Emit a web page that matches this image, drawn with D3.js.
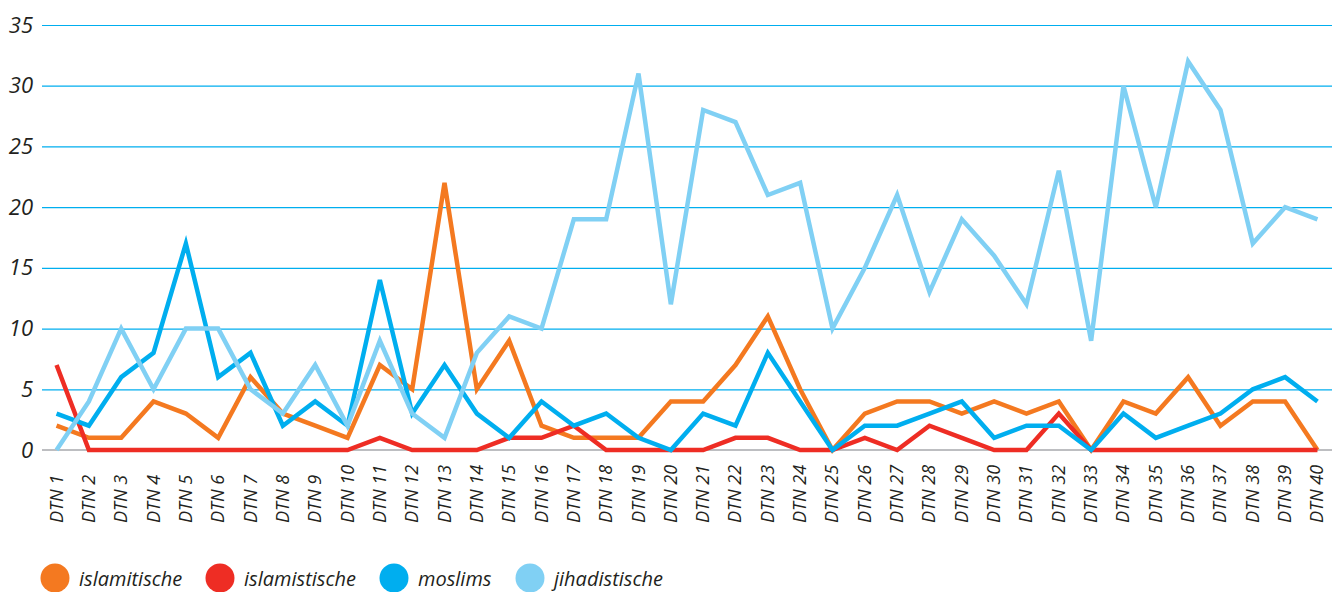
<!DOCTYPE html>
<html>
<head>
<meta charset="utf-8">
<script src="https://cdn.jsdelivr.net/npm/d3@7"></script>
<style>
  body { margin: 0; background: #fff; }
  svg text { font-family: "Open Sans", sans-serif; font-style: italic; fill: #231f20; }
</style>
</head>
<body>
<div id="chart"></div>
<script>
const width = 1338;
const height = 592;

const categories = d3.range(1, 41).map((i) => 'DTN ' + i);

const islamitische = [2, 1, 1, 4, 3, 1, 6, 3, 2, 1, 7, 5, 22, 5, 9, 2, 1, 1, 1, 4,
  4, 7, 11, 5, 0, 3, 4, 4, 3, 4, 3, 4, 0, 4, 3, 6, 2, 4, 4, 0];
const islamistische = [7, 0, 0, 0, 0, 0, 0, 0, 0, 0, 1, 0, 0, 0, 1, 1, 2, 0, 0, 0,
  0, 1, 1, 0, 0, 1, 0, 2, 1, 0, 0, 3, 0, 0, 0, 0, 0, 0, 0, 0];
const moslims = [3, 2, 6, 8, 17, 6, 8, 2, 4, 2, 14, 3, 7, 3, 1, 4, 2, 3, 1, 0,
  3, 2, 8, 4, 0, 2, 2, 3, 4, 1, 2, 2, 0, 3, 1, 2, 3, 5, 6, 4];
const jihadistische = [0, 4, 10, 5, 10, 10, 5, 3, 7, 2, 9, 3, 1, 8, 11, 10, 19, 19, 31, 12,
  28, 27, 21, 22, 10, 15, 21, 13, 19, 16, 12, 23, 9, 30, 20, 32, 28, 17, 20, 19];

const yTicks = [0, 5, 10, 15, 20, 25, 30, 35];

const series = [
  { name: 'islamitische', values: islamitische, color: '#f47920' },
  { name: 'islamistische', values: islamistische, color: '#ee2d24' },
  { name: 'moslims', values: moslims, color: '#00aeef' },
  { name: 'jihadistische', values: jihadistische, color: '#80d0f4' },
];

const svg = d3.select('#chart')
  .append('svg')
  .attr('width', width)
  .attr('height', height);

const area = { left: 42, right: 1332, top: 25, bottom: 450 };

const xScale = d3.scalePoint()
  .domain(categories)
  .range([area.left, area.right])
  .padding(0.45);

const yScale = d3.scaleLinear()
  .domain([0, 35])
  .range([area.bottom, area.top]);

// gridlines
const grid = svg.append('g')
  .attr('transform', `translate(${area.left}, 0)`)
  .call(d3.axisLeft(yScale).tickValues(yTicks.filter((d) => d > 0)).tickFormat('').tickSize(-(area.right - area.left)));
grid.select('.domain').remove();
grid.selectAll('line').attr('stroke', '#00aeef').attr('stroke-width', 1.2);

// baseline
svg.append('line')
  .attr('x1', area.left).attr('x2', area.right)
  .attr('y1', yScale(0)).attr('y2', yScale(0))
  .attr('stroke', '#a7a9ac').attr('stroke-width', 1.5);

// y labels
const yAxis = svg.append('g')
  .attr('transform', `translate(${area.left - 9}, 0)`)
  .call(d3.axisLeft(yScale).tickValues(yTicks).tickSize(0).tickPadding(0));
yAxis.select('.domain').remove();
yAxis.selectAll('text').attr('font-size', 22).style('font-family', '"Open Sans", sans-serif');

// x labels
svg.append('g')
  .selectAll('text')
  .data(categories)
  .join('text')
  .attr('transform', (d) => `translate(${xScale(d) + 6}, 523) rotate(-90)`)
  .attr('text-anchor', 'start')
  .attr('font-size', 18)
  .text((d) => d);

// lines
const line = d3.line()
  .x((d, i) => xScale(categories[i]))
  .y((d) => yScale(d));

svg.append('g')
  .selectAll('path')
  .data(series)
  .join('path')
  .attr('d', (d) => line(d.values))
  .attr('fill', 'none')
  .attr('stroke', (d) => d.color)
  .attr('stroke-width', 4.5)
  .attr('stroke-linejoin', 'miter');

// legend
const legendX = [55, 220, 394, 530];
const legend = svg.append('g')
  .selectAll('g')
  .data(series)
  .join('g')
  .attr('transform', (d, i) => `translate(${legendX[i]}, 578)`);

legend.append('circle')
  .attr('r', 14.5)
  .attr('fill', (d) => d.color);

legend.append('text')
  .attr('x', 24)
  .attr('y', 8)
  .attr('font-size', 20)
  .text((d) => d.name);
</script>
</body>
</html>
